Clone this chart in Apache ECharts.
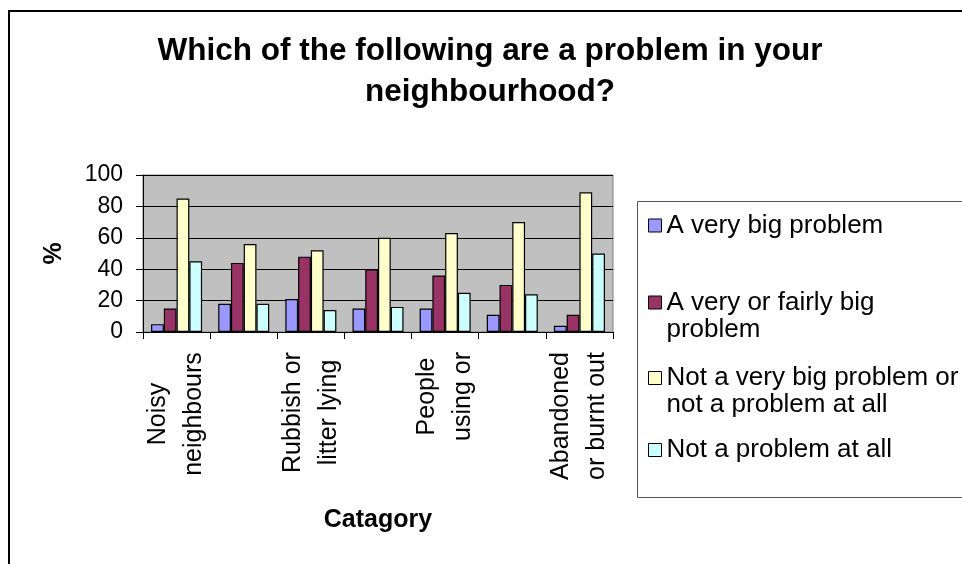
<!DOCTYPE html>
<html>
<head>
<meta charset="utf-8">
<script src="https://cdn.jsdelivr.net/npm/echarts@6/dist/echarts.min.js"></script>
<style>html,body{margin:0;padding:0;background:#fff}#c{width:962px;height:564px}</style>
</head>
<body>
<div id="c"></div>
<script>
var categories = ['Noisy\nneighbours', 'Teenagers\nhanging', 'Rubbish or\nlitter lying', 'Vandalism\nand graffiti', 'People\nusing or', 'People being\ndrunk', 'Abandoned\nor burnt out'];
var seriesNames = ['A very big problem', 'A very or fairly big\nproblem', 'Not a very big problem or\nnot a problem at all', 'Not a problem at all'];
var veryBig = [5, 18, 21, 15, 15, 11, 4];
var veryOrFairlyBig = [15, 44, 48, 40, 36, 30, 11];
var notVeryBig = [85, 56, 52, 60, 63, 70, 89];
var notAtAll = [45, 18, 14, 16, 25, 24, 50];
var yTicks = [0, 20, 40, 60, 80, 100];

var FONT = '"Liberation Sans", Arial, sans-serif';
var LABEL_SIZE = 25;
var colors = ['#9999FF', '#993366', '#FFFFCC', '#CCFFFF'];
var values = [veryBig, veryOrFairlyBig, notVeryBig, notAtAll];

// one rich style per label, as wide as its longest line, so the lines are centred on each other
var measureCtx = document.createElement('canvas').getContext('2d');
measureCtx.font = LABEL_SIZE + 'px ' + FONT;
var rich = {};
categories.forEach(function (c, i) {
  var w = 0;
  c.split('\n').forEach(function (l) { w = Math.max(w, measureCtx.measureText(l).width); });
  rich['k' + i] = {width: Math.ceil(w), align: 'center', fontFamily: FONT, fontSize: LABEL_SIZE, lineHeight: 36, color: '#000'};
});

var chart = echarts.init(document.getElementById('c'), null, {renderer: 'canvas'});

function legendFor(i, top) {
  var name = seriesNames[i];
  return {
    data: [name],
    orient: 'vertical',
    left: 648,
    top: top,
    padding: 0,
    itemWidth: 13,
    itemHeight: 13,
    icon: 'rect',
    selectedMode: false,
    itemStyle: {borderColor: '#000', borderWidth: 1},
    textStyle: {fontFamily: FONT, fontSize: 26, lineHeight: 27, color: '#000'},
    formatter: function (n) { return n.indexOf('\n') >= 0 ? '\n' + n : n; }
  };
}

var series = values.map(function (v, i) {
  return {
    name: seriesNames[i],
    type: 'bar',
    data: v,
    barGap: '0%',
    barCategoryGap: '24%',
    itemStyle: {color: colors[i], borderColor: '#000', borderWidth: 1.2},
    emphasis: {disabled: true}
  };
});

chart.setOption({
  animation: false,
  textStyle: {fontFamily: FONT},
  title: {
    text: 'Which of the following are a problem in your\nneighbourhood?',
    left: 490,
    top: 31,
    padding: 0,
    textAlign: 'center',
    textStyle: {fontFamily: FONT, fontSize: 31.5, fontWeight: 'bold', lineHeight: 41, color: '#000'}
  },
  graphic: [
    {type: 'polyline', z: -10, shape: {points: [[1000, 11], [9, 11], [9, 600]]}, style: {fill: null, stroke: '#000', lineWidth: 2}},
    {type: 'polyline', z: -5, shape: {points: [[1000, 201.5], [637.5, 201.5], [637.5, 497.5], [1000, 497.5]]}, style: {fill: null, stroke: '#555', lineWidth: 1}}
  ],
  legend: [legendFor(0, 212), legendFor(1, 262), legendFor(2, 337.5), legendFor(3, 436.5)],
  grid: {
    left: 143, right: 349, top: 175, bottom: 232,
    show: true, backgroundColor: '#C0C0C0', borderColor: '#808080', borderWidth: 1
  },
  xAxis: {
    type: 'category',
    data: categories,
    name: 'Catagory',
    nameLocation: 'middle',
    nameGap: 176,
    nameTextStyle: {fontFamily: FONT, fontSize: 25, fontWeight: 'bold', color: '#000'},
    axisLine: {lineStyle: {color: '#000', width: 1}},
    axisTick: {show: true, interval: 0, length: 7, lineStyle: {color: '#000'}},
    axisLabel: {
      interval: 1,
      rotate: 90,
      margin: 20,
      color: '#000',
      fontFamily: FONT,
      fontSize: LABEL_SIZE,
      lineHeight: 36,
      formatter: function (v) {
        var i = categories.indexOf(v);
        return String(v).split('\n').map(function (l) { return '{k' + i + '|' + l + '}'; }).join('\n');
      },
      rich: rich
    },
    splitLine: {show: false}
  },
  yAxis: {
    type: 'value',
    min: yTicks[0],
    max: yTicks[yTicks.length - 1],
    interval: 20,
    name: '%',
    nameLocation: 'middle',
    nameGap: 76,
    nameTextStyle: {fontFamily: FONT, fontSize: 25, fontWeight: 'bold', color: '#000'},
    axisLine: {show: true, lineStyle: {color: '#000', width: 1}},
    axisTick: {show: true, length: 7, lineStyle: {color: '#000'}},
    axisLabel: {margin: 20, color: '#000', fontFamily: FONT, fontSize: 23},
    splitLine: {show: true, lineStyle: {color: '#000', width: 1}}
  },
  series: series
});
</script>
</body>
</html>
